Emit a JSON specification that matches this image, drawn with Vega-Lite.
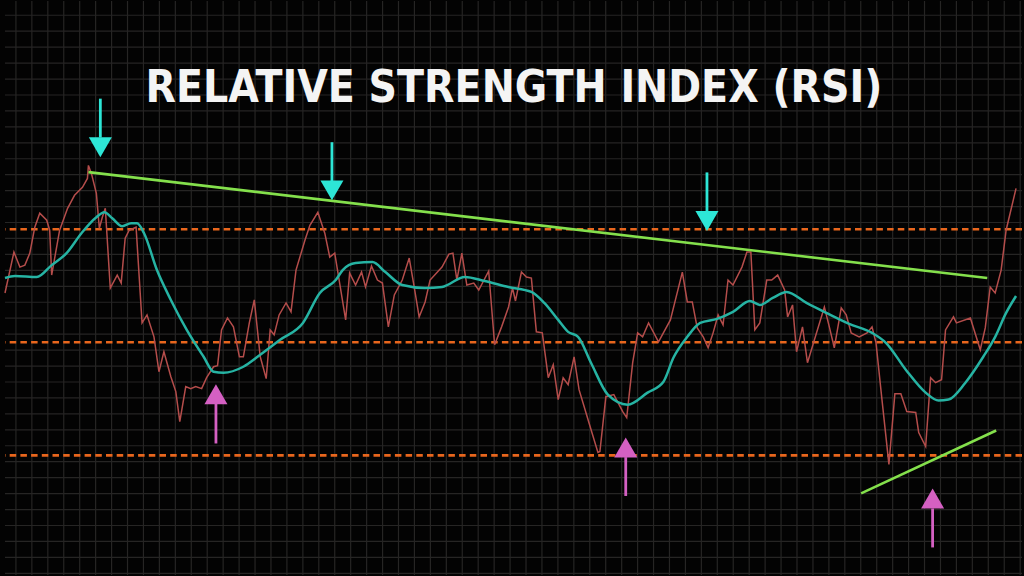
{
  "$schema": "https://vega.github.io/schema/vega-lite/v6.json",
  "width": 1024,
  "height": 576,
  "autosize": {"type": "fit", "contains": "padding"},
  "padding": 0,
  "background": "#030303",
  "config": {
    "view": {"stroke": null},
    "axis": {"disable": true}
  },
  "datasets": {
    "gridx": [{"t":2.75},{"t":6.76},{"t":10.78},{"t":14.79},{"t":18.8},{"t":22.81},{"t":26.83},{"t":30.84},{"t":34.85},{"t":38.86},{"t":42.88},{"t":46.89},{"t":50.9},{"t":54.91},{"t":58.93},{"t":62.94},{"t":66.95},{"t":70.96},{"t":74.98},{"t":78.99},{"t":83},{"t":87.01},{"t":91.03},{"t":95.04},{"t":99.05},{"t":103.06},{"t":107.08},{"t":111.09},{"t":115.1},{"t":119.11},{"t":123.13},{"t":127.14},{"t":131.15},{"t":135.16},{"t":139.18},{"t":143.19},{"t":147.2},{"t":151.21},{"t":155.23},{"t":159.24},{"t":163.25},{"t":167.26},{"t":171.28},{"t":175.29},{"t":179.3},{"t":183.31},{"t":187.33},{"t":191.34},{"t":195.35},{"t":199.36},{"t":203.38},{"t":207.39},{"t":211.4},{"t":215.41},{"t":219.43},{"t":223.44},{"t":227.45},{"t":231.46},{"t":235.48},{"t":239.49},{"t":243.5},{"t":247.51},{"t":251.53},{"t":255.54}],
    "gridy": [{"v":107.83},{"v":105.01},{"v":102.19},{"v":99.37},{"v":96.55},{"v":93.73},{"v":90.91},{"v":88.09},{"v":85.27},{"v":82.46},{"v":79.64},{"v":76.82},{"v":74},{"v":71.18},{"v":68.36},{"v":65.54},{"v":62.72},{"v":59.9},{"v":57.08},{"v":54.26},{"v":51.44},{"v":48.62},{"v":45.8},{"v":42.98},{"v":40.17},{"v":37.35},{"v":34.53},{"v":31.71},{"v":28.89},{"v":26.07},{"v":23.25},{"v":20.43},{"v":17.61},{"v":14.79},{"v":11.97},{"v":9.15}],
    "rsi": [
      {"t":0,"v":58.72},{"t":2.25,"v":65.95},{"t":3.75,"v":63.3},{"t":5,"v":63.65},{"t":6.25,"v":65.77},{"t":7.5,"v":70.35},{"t":8.75,"v":72.82},{"t":10.5,"v":71.58},{"t":11.25,"v":69.82},{"t":11.75,"v":61.89},{"t":13.75,"v":69.82},{"t":15.75,"v":73.7},{"t":17.5,"v":75.99},{"t":19.5,"v":77.4},{"t":20.75,"v":78.98},{"t":21,"v":81.28},{"t":21.75,"v":79.87},{"t":23,"v":76.34},{"t":23.75,"v":70.17},{"t":24.5,"v":72.11},{"t":25.25,"v":73.7},{"t":26.5,"v":59.6},{"t":28.25,"v":61.89},{"t":29.25,"v":60.48},{"t":30.25,"v":68.41},{"t":31.25,"v":69.82},{"t":33,"v":70.35},{"t":34.5,"v":53.43},{"t":35.75,"v":54.84},{"t":37.5,"v":50.97},{"t":38.75,"v":44.8},{"t":40,"v":48.32},{"t":41.75,"v":43.92},{"t":43,"v":41.28},{"t":44,"v":35.99},{"t":45.5,"v":42.16},{"t":46.75,"v":41.8},{"t":48,"v":42.16},{"t":49.5,"v":41.8},{"t":50.75,"v":43.74},{"t":52.5,"v":45.68},{"t":53.5,"v":45.86},{"t":54.5,"v":52.2},{"t":56,"v":54.31},{"t":57.5,"v":52.73},{"t":59,"v":47.44},{"t":60,"v":47.44},{"t":61.5,"v":53.43},{"t":62.75,"v":57.49},{"t":64.25,"v":47.44},{"t":65.75,"v":43.57},{"t":66.75,"v":52.2},{"t":67.75,"v":51.32},{"t":69,"v":54.84},{"t":70.75,"v":56.96},{"t":72,"v":55.37},{"t":73.25,"v":62.77},{"t":75.5,"v":68.06},{"t":76.75,"v":70.7},{"t":78.75,"v":72.99},{"t":80.5,"v":69.29},{"t":81.75,"v":65.06},{"t":83,"v":65.77},{"t":85.75,"v":53.96},{"t":86.75,"v":62.24},{"t":88.25,"v":60.13},{"t":89.75,"v":62.42},{"t":90.75,"v":59.78},{"t":92.25,"v":63.48},{"t":93.75,"v":61.01},{"t":95,"v":60.48},{"t":96.5,"v":52.73},{"t":98,"v":58.37},{"t":100,"v":61.01},{"t":101.75,"v":64.89},{"t":103,"v":59.78},{"t":104.25,"v":54.49},{"t":105.75,"v":57.13},{"t":107,"v":61.01},{"t":110,"v":63.3},{"t":111.75,"v":65.59},{"t":112.75,"v":65.77},{"t":113.75,"v":61.01},{"t":115,"v":65.77},{"t":116.25,"v":60.13},{"t":118,"v":60.48},{"t":119.25,"v":59.25},{"t":121.75,"v":62.6},{"t":123.25,"v":49.56},{"t":125,"v":52.73},{"t":126.75,"v":56.25},{"t":127.75,"v":59.6},{"t":128.5,"v":57.31},{"t":130,"v":62.42},{"t":131.25,"v":61.54},{"t":132.5,"v":61.36},{"t":133.75,"v":51.85},{"t":135.25,"v":51.67},{"t":136.75,"v":43.74},{"t":138,"v":46.03},{"t":139.25,"v":39.87},{"t":140.5,"v":43.74},{"t":141.75,"v":42.51},{"t":143.25,"v":47.44},{"t":144.5,"v":41.63},{"t":146.75,"v":36.34},{"t":149.25,"v":30.53},{"t":149.75,"v":30.7},{"t":151.25,"v":40.39},{"t":153.25,"v":40.75},{"t":155.5,"v":37.75},{"t":156.5,"v":36.69},{"t":158,"v":46.39},{"t":159.25,"v":51.67},{"t":160.5,"v":50.97},{"t":162,"v":53.43},{"t":164.5,"v":50.09},{"t":167.5,"v":53.96},{"t":170.5,"v":62.42},{"t":171.75,"v":57.13},{"t":173,"v":57.13},{"t":174.25,"v":52.55},{"t":175.75,"v":50.97},{"t":177,"v":49.03},{"t":178.25,"v":51.67},{"t":179.5,"v":54.84},{"t":180.75,"v":53.08},{"t":182,"v":61.01},{"t":183.25,"v":60.13},{"t":185.5,"v":63.3},{"t":186.75,"v":65.95},{"t":187.75,"v":65.95},{"t":188.75,"v":52.2},{"t":190,"v":53.43},{"t":191.75,"v":61.01},{"t":193,"v":61.01},{"t":194.5,"v":61.89},{"t":196.25,"v":59.25},{"t":197,"v":54.49},{"t":198.25,"v":56.61},{"t":199.25,"v":48.32},{"t":200.75,"v":52.73},{"t":202,"v":46.39},{"t":203.75,"v":50.44},{"t":206.25,"v":56.25},{"t":207.5,"v":52.73},{"t":208.75,"v":49.03},{"t":210.5,"v":56.08},{"t":211.75,"v":54.84},{"t":213,"v":51.67},{"t":215,"v":50.97},{"t":217,"v":51.67},{"t":218.25,"v":52.73},{"t":219.25,"v":49.91},{"t":220.75,"v":39.87},{"t":222.5,"v":28.41},{"t":224,"v":40.92},{"t":225.5,"v":40.92},{"t":227,"v":37.75},{"t":229.25,"v":37.58},{"t":230,"v":34.05},{"t":231.75,"v":31.58},{"t":233,"v":43.74},{"t":234.25,"v":42.86},{"t":235.75,"v":43.39},{"t":236.75,"v":52.2},{"t":238.75,"v":54.49},{"t":239.5,"v":53.43},{"t":243,"v":54.31},{"t":245.5,"v":48.68},{"t":246.75,"v":52.55},{"t":248,"v":59.78},{"t":249.25,"v":58.72},{"t":250.75,"v":62.77},{"t":252,"v":69.82},{"t":254.5,"v":77.22}
    ],
    "ma": [
      {"t":0,"v":61.36},{"t":2.5,"v":61.72},{"t":8,"v":61.54},{"t":11.75,"v":63.65},{"t":15.5,"v":65.77},{"t":19.25,"v":69.29},{"t":23,"v":72.11},{"t":25,"v":72.99},{"t":27,"v":71.94},{"t":29.5,"v":70.53},{"t":31.75,"v":71.05},{"t":33.25,"v":71.05},{"t":35,"v":69.29},{"t":38.25,"v":62.77},{"t":41.75,"v":57.49},{"t":45.75,"v":52.2},{"t":50,"v":47.44},{"t":52.5,"v":44.8},{"t":55,"v":44.62},{"t":60,"v":45.68},{"t":64.25,"v":47.8},{"t":69.25,"v":50.44},{"t":75,"v":53.43},{"t":79.25,"v":58.72},{"t":83.25,"v":61.01},{"t":85,"v":62.77},{"t":88.25,"v":64.01},{"t":92.5,"v":64.18},{"t":95.75,"v":62.42},{"t":100,"v":60.13},{"t":105.75,"v":59.6},{"t":110,"v":59.78},{"t":115.75,"v":61.54},{"t":120.75,"v":60.83},{"t":126.75,"v":59.78},{"t":132.5,"v":58.9},{"t":135.75,"v":56.96},{"t":139.25,"v":53.96},{"t":141.75,"v":51.85},{"t":144.25,"v":50.97},{"t":147.5,"v":46.39},{"t":151.75,"v":40.75},{"t":156.75,"v":38.98},{"t":161.75,"v":41.1},{"t":165.75,"v":43.04},{"t":168.25,"v":47.27},{"t":171.75,"v":50.97},{"t":175,"v":53.43},{"t":179.25,"v":54.14},{"t":183.25,"v":55.37},{"t":187.5,"v":57.31},{"t":190,"v":56.61},{"t":193.25,"v":57.84},{"t":196.75,"v":58.9},{"t":201.75,"v":56.96},{"t":206.75,"v":55.2},{"t":212.5,"v":53.26},{"t":218.25,"v":51.67},{"t":221.75,"v":49.91},{"t":226.75,"v":45.15},{"t":231.75,"v":41.1},{"t":235,"v":39.69},{"t":237.5,"v":39.87},{"t":241.75,"v":42.86},{"t":246.25,"v":47.44},{"t":249.25,"v":50.97},{"t":252,"v":55.2},{"t":254.5,"v":58.19}
    ],
    "levels": [{"v":70},{"v":50},{"v":30}],
    "trends": [
      {"t":21,"v":80.09,"t2":247.25,"v2":61.36},
      {"t":215.5,"v":23.3,"t2":249.5,"v2":34.4}
    ],
    "arrows": [
      {"t":24,"v":93.08,"v2":86.21,"head":84.5,"dir":"down"},
      {"t":82.3,"v":85.38,"v2":78.46,"head":76.87,"dir":"down"},
      {"t":176.7,"v":80.04,"v2":73.17,"head":71.46,"dir":"down"},
      {"t":53.1,"v":32.11,"v2":39.16,"head":40.8,"dir":"up"},
      {"t":156.25,"v":22.83,"v2":29.7,"head":31.41,"dir":"up"},
      {"t":233.5,"v":13.73,"v2":20.61,"head":22.37,"dir":"up"}
    ],
    "title": [{"t":128.1,"v":92.43,"label":"RELATIVE STRENGTH INDEX (RSI)"}]
  },
  "layer": [
    {
      "data": {"name": "gridx"},
      "mark": {"type": "rule", "color": "#262524", "strokeWidth": 1.2},
      "encoding": {
        "x": {"field": "t", "type": "quantitative", "title": null, "scale": {"domain": [0, 256], "nice": false, "zero": false}}
      }
    },
    {
      "data": {"name": "gridy"},
      "mark": {"type": "rule", "color": "#262524", "strokeWidth": 1.2},
      "encoding": {
        "y": {"field": "v", "type": "quantitative", "title": null, "scale": {"domain": [8.855, 110.35], "nice": false, "zero": false}}
      }
    },
    {
      "data": {"name": "levels"},
      "mark": {"type": "rule", "color": "#e8661d", "strokeWidth": 2.6, "strokeDash": [6.5, 4.2]},
      "encoding": {
        "y": {"field": "v", "type": "quantitative", "title": null, "scale": {"domain": [8.855, 110.35], "nice": false, "zero": false}}
      }
    },
    {
      "data": {"name": "rsi"},
      "mark": {"type": "line", "color": "#b44d4b", "strokeWidth": 1.5},
      "encoding": {
        "x": {"field": "t", "type": "quantitative", "title": null, "scale": {"domain": [0, 256], "nice": false, "zero": false}},
        "y": {"field": "v", "type": "quantitative", "title": null, "scale": {"domain": [8.855, 110.35], "nice": false, "zero": false}}
      }
    },
    {
      "data": {"name": "ma"},
      "mark": {"type": "line", "color": "#26b3a3", "strokeWidth": 2.5, "interpolate": "monotone"},
      "encoding": {
        "x": {"field": "t", "type": "quantitative", "title": null, "scale": {"domain": [0, 256], "nice": false, "zero": false}},
        "y": {"field": "v", "type": "quantitative", "title": null, "scale": {"domain": [8.855, 110.35], "nice": false, "zero": false}}
      }
    },
    {
      "data": {"name": "trends"},
      "mark": {"type": "rule", "color": "#84e04c", "strokeWidth": 2.6},
      "encoding": {
        "x": {"field": "t", "type": "quantitative", "title": null, "scale": {"domain": [0, 256], "nice": false, "zero": false}},
        "x2": {"field": "t2"},
        "y": {"field": "v", "type": "quantitative", "title": null, "scale": {"domain": [8.855, 110.35], "nice": false, "zero": false}},
        "y2": {"field": "v2"}
      }
    },
    {
      "data": {"name": "arrows"},
      "mark": {"type": "rule", "strokeWidth": 2.8},
      "encoding": {
        "x": {"field": "t", "type": "quantitative", "title": null, "scale": {"domain": [0, 256], "nice": false, "zero": false}},
        "y": {"field": "v", "type": "quantitative", "title": null, "scale": {"domain": [8.855, 110.35], "nice": false, "zero": false}},
        "y2": {"field": "v2"},
        "color": {"field": "dir", "type": "nominal", "legend": null, "scale": {"domain": ["down", "up"], "range": ["#2de6d6", "#d460c2"]}}
      }
    },
    {
      "data": {"name": "arrows"},
      "mark": {"type": "point", "filled": true, "opacity": 1, "size": 530, "strokeWidth": 0},
      "encoding": {
        "x": {"field": "t", "type": "quantitative", "title": null, "scale": {"domain": [0, 256], "nice": false, "zero": false}},
        "y": {"field": "head", "type": "quantitative", "title": null, "scale": {"domain": [8.855, 110.35], "nice": false, "zero": false}},
        "color": {"field": "dir", "type": "nominal", "legend": null, "scale": {"domain": ["down", "up"], "range": ["#2de6d6", "#d460c2"]}},
        "shape": {"field": "dir", "type": "nominal", "legend": null, "scale": {"domain": ["down", "up"], "range": ["triangle-down", "triangle-up"]}}
      }
    },
    {
      "data": {"name": "title"},
      "mark": {"type": "text", "color": "#f4f4f4", "font": "DejaVu Sans Condensed, Roboto", "fontWeight": "bold", "fontSize": 44, "align": "center", "baseline": "alphabetic"},
      "encoding": {
        "x": {"field": "t", "type": "quantitative", "title": null, "scale": {"domain": [0, 256], "nice": false, "zero": false}},
        "y": {"field": "v", "type": "quantitative", "title": null, "scale": {"domain": [8.855, 110.35], "nice": false, "zero": false}},
        "text": {"field": "label"}
      }
    }
  ]
}
